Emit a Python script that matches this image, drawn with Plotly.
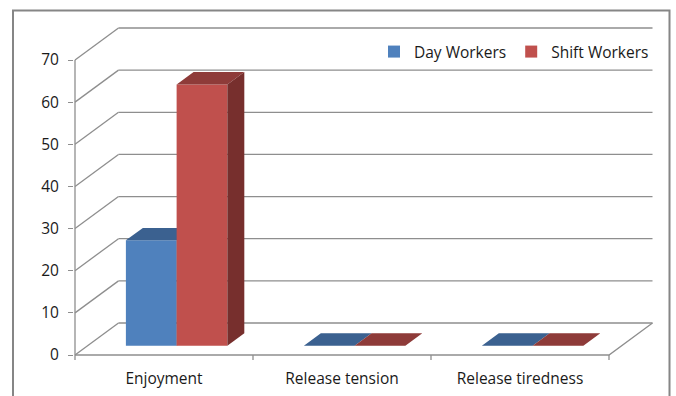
import plotly.graph_objects as go

# ---- data ----
categories = ["Enjoyment", "Release tension", "Release tiredness"]
series_names = ["Day Workers", "Shift Workers"]
day_workers = [25, 0, 0]
shift_workers = [62, 0, 0]
y_ticks = [0, 10, 20, 30, 40, 50, 60, 70]

series_values = [day_workers, shift_workers]
front_colors = ["#4F81BD", "#C0504D"]
top_colors = ["#3B6190", "#8E3B39"]
side_colors = ["#385A86", "#772F2D"]

# ---- oblique projection settings (in axis units) ----
W, H = 676, 396
ML, MR, MT, MB = 74, 18, 26, 35
PX_PER_X = 178.0          # pixels per category
PX_PER_Y = 295.0 / 70.0   # pixels per value unit
DX = 43.5 / PX_PER_X      # wall depth, horizontal
DY = 32.0 / PX_PER_Y      # wall depth, vertical
F1, F2 = 0.29, 0.68       # bar depth (front / back fraction)
GROUP_LEFT = 0.215
BAR_W = 0.285
YMAX = y_ticks[-1]
TICK_LEN = 5.0 / PX_PER_Y

plot_w = W - ML - MR
plot_h = H - MT - MB
x0 = (ML - 75) / PX_PER_X
x1 = x0 + plot_w / PX_PER_X
y0 = -(361 - 355) / PX_PER_Y
y1 = y0 + plot_h / PX_PER_Y

n = len(categories)
grid = "#8E8E8E"

fig = go.Figure()

# walls / grid
gx, gy = [], []
for v in y_ticks:
    gx += [DX, n + DX, None]
    gy += [v + DY, v + DY, None]
    gx += [0, DX, None]
    gy += [v, v + DY, None]
# floor front and right edges
gx += [0, n, n + DX, None]
gy += [0, 0, DY, None]
# front value axis line
gx += [0, 0, None]
gy += [0, YMAX, None]
# category tick marks
for k in range(n + 1):
    gx += [k, k, None]
    gy += [0, -TICK_LEN, None]
fig.add_trace(go.Scatter(x=gx, y=gy, mode="lines", line=dict(color=grid, width=1.3),
                         hoverinfo="skip", showlegend=False, zorder=0))

ddx = (F2 - F1) * DX
ddy = (F2 - F1) * DY
base = F1 * DY
for s, (name, vals) in enumerate(zip(series_names, series_values)):
    centers = [k + GROUP_LEFT + (s + 0.5) * BAR_W + F1 * DX for k in range(n)]
    fig.add_trace(go.Bar(x=centers, y=vals, base=[base] * n, width=BAR_W,
                         marker=dict(color=front_colors[s], line=dict(width=0)),
                         name=name, zorder=2 * s + 1, hoverinfo="skip"))
    tx, ty, sx, sy = [], [], [], []
    for c, v in zip(centers, vals):
        xl, xr = c - BAR_W / 2, c + BAR_W / 2
        top = base + v
        tx += [xl, xr, xr + ddx, xl + ddx, xl, None]
        ty += [top, top, top + ddy, top + ddy, top, None]
        if v > 0:
            sx += [xr, xr + ddx, xr + ddx, xr, xr, None]
            sy += [base, base + ddy, top + ddy, top, base, None]
    fig.add_trace(go.Scatter(x=tx, y=ty, mode="lines", fill="toself",
                             fillcolor=top_colors[s], line=dict(width=0, color=top_colors[s]),
                             hoverinfo="skip", showlegend=False, zorder=2 * s + 2))
    if sx:
        fig.add_trace(go.Scatter(x=sx, y=sy, mode="lines", fill="toself",
                                 fillcolor=side_colors[s], line=dict(width=0, color=side_colors[s]),
                                 hoverinfo="skip", showlegend=False, zorder=2 * s + 2))

font_family = "'Open Sans', sans-serif"
fig.update_layout(
    width=W, height=H,
    margin=dict(l=ML, r=MR, t=MT, b=MB, pad=0, autoexpand=False),
    paper_bgcolor="white", plot_bgcolor="white",
    barmode="overlay",
    font=dict(family=font_family, size=15.5, color="#1A1A1A"),
    xaxis=dict(range=[x0, x1], tickvals=[k + 0.5 for k in range(n)], ticktext=categories,
               ticks="", showgrid=False, zeroline=False, showline=False,
               ticklabelstandoff=6, automargin=False),
    yaxis=dict(range=[y0, y1], tickvals=y_ticks, ticks="outside", ticklen=5,
               tickcolor=grid, tickwidth=1.3, showgrid=False, zeroline=False,
               showline=False, ticklabelstandoff=6, automargin=False),
    legend=dict(orientation="h", x=(654 - ML) / plot_w, xanchor="right",
                y=(361 - 52) / plot_h, yanchor="middle", bgcolor="rgba(0,0,0,0)",
                font=dict(size=15.5), itemwidth=30),
    shapes=[dict(type="rect", xref="paper", yref="paper",
                 x0=(13 - ML) / plot_w, x1=(669.5 - ML) / plot_w,
                 y0=-0.3, y1=(361 - 10.5) / plot_h,
                 line=dict(color="#868686", width=2), fillcolor="rgba(0,0,0,0)", layer="below")],
)

fig.write_html("out.html")
